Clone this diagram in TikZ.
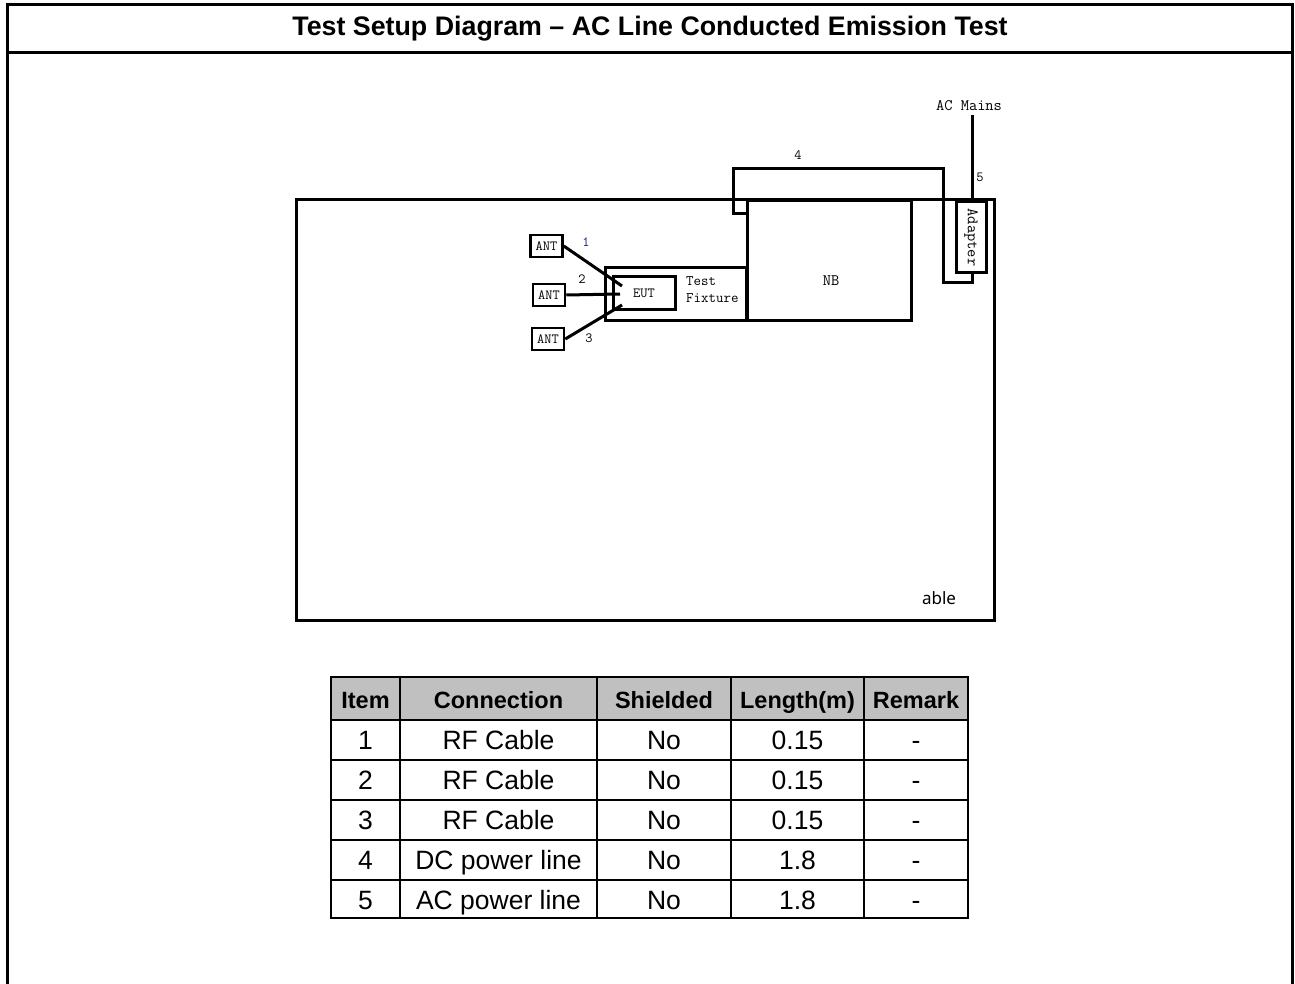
\documentclass[tikz,border=0pt]{standalone}
\usepackage{fontspec}
\setmainfont{Liberation Sans}
\newfontfamily\yhfont{Noto Sans}
\definecolor{hdrgray}{RGB}{192,192,192}
\definecolor{numblue}{RGB}{20,40,120}
\begin{document}
\begin{tikzpicture}[x=1pt,y=-1pt,
  box/.style={draw, line width=3pt, inner sep=0pt},
  antbox/.style={draw, line width=2.5pt, inner sep=0pt, minimum width=32pt, minimum height=22pt,
    font=\ttfamily\fontsize{14}{14}\selectfont},
  mono/.style={font=\ttfamily\fontsize{16}{16}\selectfont, inner sep=0pt},
  small/.style={font=\ttfamily\fontsize{14}{14}\selectfont, inner sep=0pt},
  wire/.style={line width=3pt},
  frame/.style={line width=3pt},
  grid/.style={line width=2pt},
  hdr/.style={font=\bfseries\fontsize{23.5}{24}\selectfont, inner sep=0pt, text height=17pt, text depth=0pt},
  cell/.style={font=\fontsize{26.5}{27}\selectfont, inner sep=0pt, text height=19pt, text depth=0pt}]
\useasboundingbox (0,0) rectangle (1295,984);
% outer frame
\draw[frame] (7,984) -- (7,5) -- (1292,5) -- (1292,984);
\draw[frame] (7,53) -- (1292,53);
\node[font=\bfseries\fontsize{26.8}{27}\selectfont, inner sep=0pt] (title) at (650,29)
  {Test Setup Diagram \textendash{} AC Line Conducted Emission Test};
% table (setup)
\node[box, minimum width=698pt, minimum height=420pt] (tbl) at (645,410) {};
\node[font=\yhfont\fontsize{17}{17}\selectfont, inner sep=0pt] (able) at (939,598) {able};
% NB
\node[box, minimum width=164pt, minimum height=119pt] (nb) at (829,260.5) {};
\node[mono] (nbl) at (831,281) {NB};
% Test fixture
\node[box, minimum width=141pt, minimum height=52pt] (fix) at (675.5,294) {};
\node[mono, align=left, anchor=west, font=\ttfamily\fontsize{14.5}{17}\selectfont] (fixl) at (686,290) {Test\\Fixture};
% EUT
\node[box, minimum width=62pt, minimum height=32pt, font=\ttfamily\fontsize{14}{14}\selectfont] (eut) at (644,293) {EUT};
% ANT
\node[antbox] (ant1) at (546.5,246) {ANT};
\node[antbox] (ant2) at (549,295) {ANT};
\node[antbox] (ant3) at (548,339) {ANT};
\coordinate (e1) at (622,286);
\coordinate (e2) at (620,294);
\coordinate (e3) at (622,305);
\draw[wire] (ant1.east) -- (e1);
\draw[wire] (ant2.east) -- (e2);
\draw[wire] (ant3.east) -- (e3);
\node[small, text=numblue] (n1) at (586,242) {1};
\node[small] (n2) at (582,279) {2};
\node[small] (n3) at (589,338) {3};
% Adapter
\node[draw, line width=3pt, inner sep=0pt, minimum width=30pt, minimum height=71pt] (adapter) at (971,237.5) {};
\node[rotate=-90, font=\ttfamily\fontsize{16}{16}\selectfont, inner sep=0pt] (adl) at (adapter) {Adapter};
% line 4 (DC)
\coordinate (d0) at (747,214);
\draw[wire] (d0) -- (733,214) -- (733,169) -- (943,169) -- (943,282) -- (972,282) -- (972,273);
\node[small] (n4) at (798,155) {4};
% line 5 (AC)
\coordinate (acm) at (972,115);
\draw[wire] (acm) -- (972,200);
\node[mono] (acl) at (969,106) {AC Mains};
\node[small] (n5) at (980,177) {5};
% cable table
\fill[hdrgray] (331,677) rectangle (968,720);
\foreach \y in {677,720,760,800,840,880,918} \draw[grid] (330,\y) -- (969,\y);
\foreach \x in {331,400,597,731,864,968} \draw[grid] (\x,676) -- (\x,919);
\node[hdr] (h1) at (365.5,700) {Item};
\node[hdr] (h2) at (498.5,700) {Connection};
\node[hdr] (h3) at (664,700) {Shielded};
\node[hdr] (h4) at (797.5,700) {Length(m)};
\node[hdr] (h5) at (916,700) {Remark};
\foreach \i/\c/\l [count=\k] in {1/RF Cable/0.15, 2/RF Cable/0.15, 3/RF Cable/0.15, 4/DC power line/1.8, 5/AC power line/1.8} {
  \pgfmathsetmacro{\yy}{700+40*\k}
  \node[cell] at (365.5,\yy) {\i};
  \node[cell] at (498.5,\yy) {\c};
  \node[cell] at (664,\yy) {No};
  \node[cell] at (797.5,\yy) {\l};
  \node[cell] at (916,\yy) {-};
}
\end{tikzpicture}
\end{document}
